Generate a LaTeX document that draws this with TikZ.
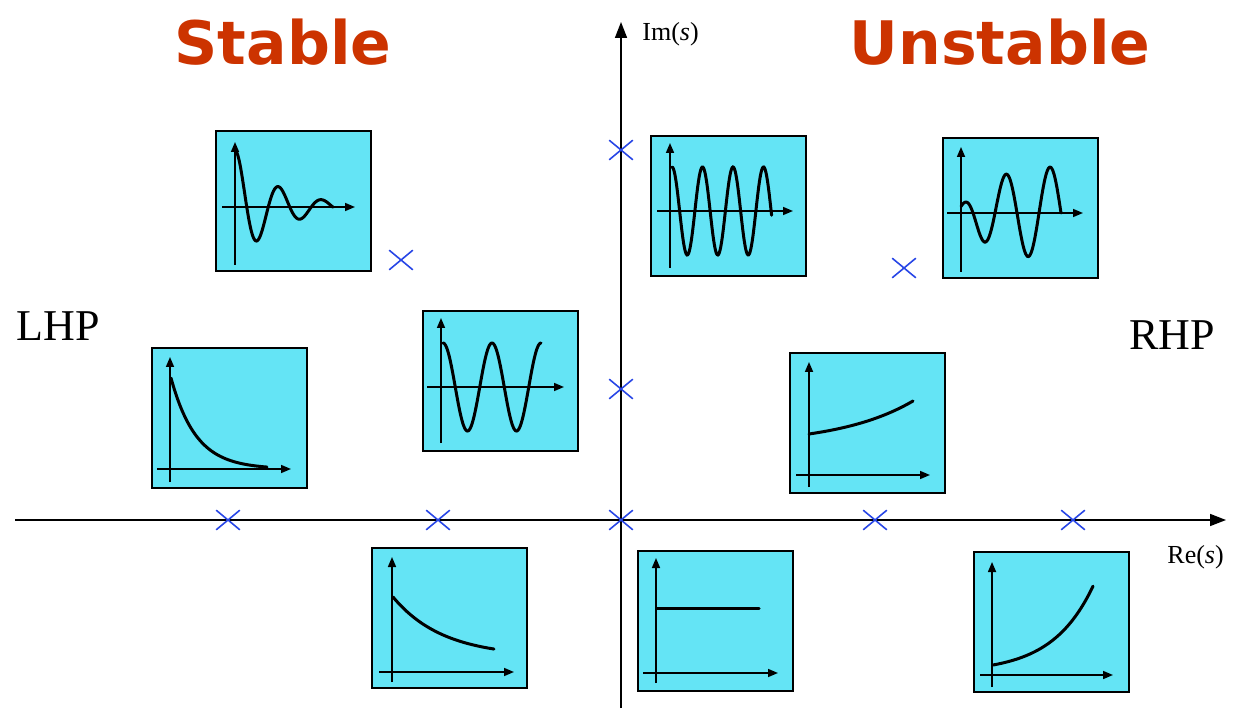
\documentclass[tikz,border=0pt]{standalone}
\usepackage{fontspec}
\setmainfont{Liberation Serif}
\newfontfamily\headfont{DejaVu Sans}
\usetikzlibrary{arrows.meta,shapes.misc}
\definecolor{boxcyan}{RGB}{100,228,245}
\definecolor{polecol}{RGB}{40,70,230}
\definecolor{headred}{RGB}{204,51,0}
\begin{document}
\begin{tikzpicture}[x=0.5pt, y=-0.5pt,
  every node/.style={inner sep=0pt},
  plotbox/.style={draw, line width=1pt, fill=boxcyan, anchor=north west, minimum width=77.5pt, minimum height=70pt},
  pole/.style={cross out, draw=polecol, line width=0.8pt, minimum width=11pt, minimum height=9pt},
  axisline/.style={line width=0.8pt, -{Triangle[length=8pt,width=6pt]}},
  miniaxis/.style={line width=0.8pt, -{Triangle[length=5pt,width=4pt]}},
  signal/.style={line width=1.5pt, line cap=round},
  heading/.style={text=headred, font=\headfont\bfseries\fontsize{30}{36}\selectfont, anchor=base},
  halfplane/.style={font=\fontsize{22}{26}\selectfont, anchor=base},
  axislabel/.style={font=\fontsize{13}{15}\selectfont, anchor=base west}
]
\useasboundingbox (0,0) rectangle (1234,710);
\coordinate (xstart) at (15,520);
\coordinate (xend) at (1226,520);
\coordinate (ystart) at (621,708);
\coordinate (yend) at (621,22);
\draw[axisline] (xstart) -- (xend);
\draw[axisline] (ystart) -- (yend);
\node[axislabel] (imlabel) at (642,41) {Im(\textit{s})};
\node[axislabel] (relabel) at (1167,563) {Re(\textit{s})};
\node[heading] (stable) at (283,65) {Stable};
\node[heading] (unstable) at (1000,65) {Unstable};
\node[halfplane, anchor=base west] (lhp) at (16,341) {LHP};
\node[halfplane] (rhp) at (1172,350) {RHP};
\node[plotbox] (damped) at (215,130) {};
\begin{scope}[shift={(damped.north west)}]
\draw[miniaxis] (20,135) -- (20,12);
\draw[miniaxis] (7,77) -- (140,77);
\draw[signal] plot[domain=21:118, samples=120] (\x, {77-56*exp(-(\x-21)/42)*cos((360/43)*(\x-21))});
\end{scope}
\node[plotbox] (fastosc) at (650,135) {};
\begin{scope}[shift={(fastosc.north west)}]
\draw[miniaxis] (20,133) -- (20,8);
\draw[miniaxis] (7,76) -- (143,76);
\draw[signal] plot[domain=22:121.6, samples=140] (\x, {76-44*cos((360/30.5)*(\x-22))});
\end{scope}
\node[plotbox] (growosc) at (942,137) {};
\begin{scope}[shift={(growosc.north west)}]
\draw[miniaxis] (19,135) -- (19,10);
\draw[miniaxis] (5,76) -- (141,76);
\draw[signal] plot[domain=19:119, samples=120] (\x, {76-(8+40*(1-exp(-(\x-20)/30)))*cos((360/44)*(\x-20))});
\end{scope}
\node[plotbox] (decay) at (151,347) {};
\begin{scope}[shift={(decay.north west)}]
\draw[miniaxis] (19,135) -- (19,10);
\draw[miniaxis] (6,122) -- (140,122);
\draw[signal] plot[domain=20:116, samples=80] (\x, {122-91*exp(-(\x-20)/25)});
\end{scope}
\node[plotbox] (sustained) at (422,310) {};
\begin{scope}[shift={(sustained.north west)}]
\draw[miniaxis] (19,133) -- (19,8);
\draw[miniaxis] (5,77) -- (142,77);
\draw[signal] plot[domain=21:119, samples=120] (\x, {77-44*cos((360/49)*(\x-21))});
\end{scope}
\node[plotbox] (slowgrow) at (789,352) {};
\begin{scope}[shift={(slowgrow.north west)}]
\draw[miniaxis] (20,135) -- (20,10);
\draw[miniaxis] (7,123) -- (141,123);
\draw[signal] plot[domain=20:124, samples=60] (\x, {123-(11*exp(0.01333*(\x-20))+30)});
\end{scope}
\node[plotbox] (slowdecay) at (371,547) {};
\begin{scope}[shift={(slowdecay.north west)}]
\draw[miniaxis] (21,135) -- (21,10);
\draw[miniaxis] (8,125) -- (143,125);
\draw[signal] plot[domain=22:123, samples=60] (\x, {50+60*(1-exp(-(\x-22)/50))});
\end{scope}
\node[plotbox] (constant) at (637,550) {};
\begin{scope}[shift={(constant.north west)}]
\draw[miniaxis] (19,133) -- (19,8);
\draw[miniaxis] (6,123) -- (141,123);
\draw[signal] (20,58) -- (122,58);
\end{scope}
\node[plotbox] (fastgrow) at (973,551) {};
\begin{scope}[shift={(fastgrow.north west)}]
\draw[miniaxis] (19,136) -- (19,11);
\draw[miniaxis] (7,124) -- (140,124);
\draw[signal] plot[domain=20:120, samples=60] (\x, {124-(7.53*exp(0.0244*(\x-20))+2.47)});
\end{scope}
\node[pole] (p1) at (401,260) {};
\node[pole] (p2) at (228,520) {};
\node[pole] (p3) at (438,520) {};
\node[pole] (p4) at (621,520) {};
\node[pole] (p5) at (875,520) {};
\node[pole] (p6) at (1073,520) {};
\node[pole] (p7) at (621,150) {};
\node[pole] (p8) at (621,389) {};
\node[pole] (p9) at (904,268) {};
\end{tikzpicture}
\end{document}
